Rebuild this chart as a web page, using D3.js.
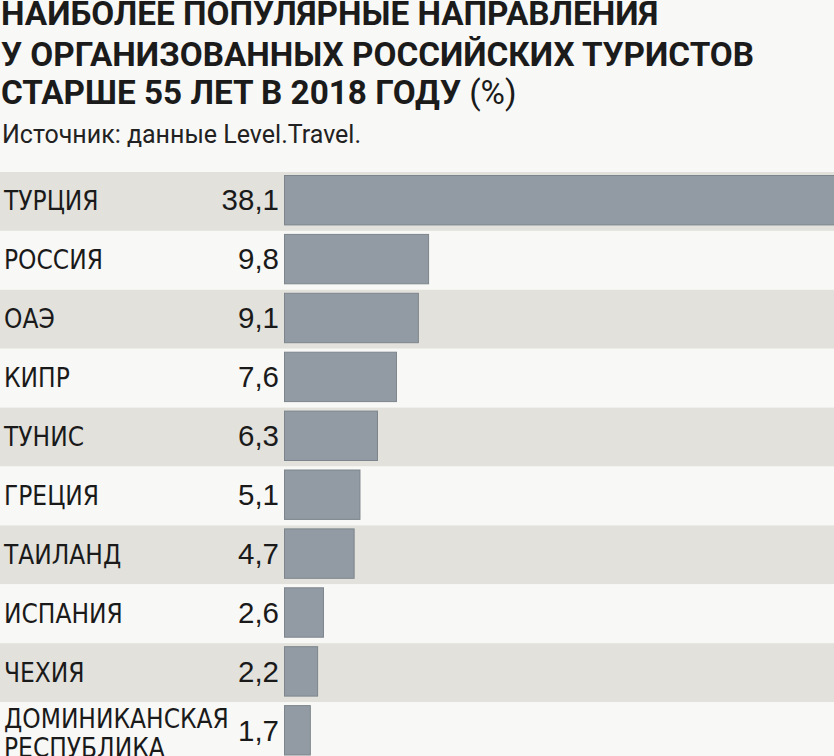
<!DOCTYPE html>
<html>
<head>
<meta charset="utf-8">
<script src="https://cdn.jsdelivr.net/npm/d3@7"></script>
<style>
  html, body { margin: 0; padding: 0; background: #f8f8f6; }
  svg { display: block; }
  .title { font-family: Roboto, "Liberation Sans", sans-serif; font-weight: 700; font-size: 33.3px; fill: #1b1b1b; }
  .sub { font-family: Roboto, "Liberation Sans", sans-serif; font-size: 25px; fill: #222; }
  .label { font-family: "DejaVu Sans Condensed", "DejaVu Sans", sans-serif; font-stretch: condensed; font-size: 26px; fill: #1a1a1a; }
  .value { font-family: "Liberation Sans", Arial, sans-serif; font-size: 29.5px; fill: #1a1a1a; }
</style>
</head>
<body>
<div id="chart"></div>
<script>
const W = 834, H = 756;

const titleLines = [
    "НАИБОЛЕЕ ПОПУЛЯРНЫЕ НАПРАВЛЕНИЯ",
    "У ОРГАНИЗОВАННЫХ РОССИЙСКИХ ТУРИСТОВ",
    "СТАРШЕ 55 ЛЕТ В 2018 ГОДУ"
];
const titleUnit = " (%)";
const source = "Источник: данные Level.Travel.";

const countries = ["ТУРЦИЯ", "РОССИЯ", "ОАЭ", "КИПР", "ТУНИС", "ГРЕЦИЯ", "ТАИЛАНД", "ИСПАНИЯ", "ЧЕХИЯ", "ДОМИНИКАНСКАЯ РЕСПУБЛИКА"];
const values = [38.1, 9.8, 9.1, 7.6, 6.3, 5.1, 4.7, 2.6, 2.2, 1.7];

const ROW_TOP = 172;
const ROW_STEP = 58.9;
const BAR_X = 284;

const ru = d3.formatLocale({decimal: ",", thousands: " ", grouping: [3], currency: ["", ""]});
const fmt = ru.format(".1f");

const svg = d3.select("#chart").append("svg")
    .attr("width", W)
    .attr("height", H);

svg.append("rect").attr("width", W).attr("height", H).attr("fill", "#f8f8f6");

// ==================== Title =====================
const titleY = [24.5, 65.5, 103.5];
const title = svg.selectAll(".title")
    .data(titleLines)
    .enter()
    .append("text")
    .attr("class", "title")
    .attr("x", 1)
    .attr("y", (d, i) => titleY[i])
    .text(d => d);

title.filter((d, i) => i === 2)
    .append("tspan")
    .style("font-weight", 400)
    .text(titleUnit);

svg.append("text")
    .attr("class", "sub")
    .attr("x", 2)
    .attr("y", 143)
    .text(source);

// ==================== Rows =====================
const y = d3.scaleBand()
    .domain(countries)
    .range([ROW_TOP, ROW_TOP + ROW_STEP * countries.length])
    .paddingInner(0);

const x = d3.scaleLinear()
    .domain([0, d3.max(values)])
    .range([BAR_X + 2, BAR_X + 2 + 14.6 * d3.max(values)]);

const rows = svg.selectAll(".row")
    .data(countries)
    .enter()
    .append("g")
    .attr("class", "row")
    .attr("transform", d => `translate(0,${y(d)})`);

rows.append("rect")
    .attr("width", W)
    .attr("height", y.bandwidth())
    .attr("fill", (d, i) => i % 2 === 0 ? "#e2e1dc" : "#f8f8f6");

rows.append("rect")
    .attr("x", BAR_X + 0.5)
    .attr("y", 3.5)
    .attr("width", (d, i) => x(values[i]) - BAR_X - 1)
    .attr("height", y.bandwidth() - 9.5)
    .attr("fill", "#929ba3")
    .attr("stroke", "#7d858c")
    .attr("stroke-width", 1);

rows.append("text")
    .attr("class", "value")
    .attr("x", 279)
    .attr("y", y.bandwidth() / 2 + 9)
    .attr("text-anchor", "end")
    .text((d, i) => fmt(values[i]));

rows.each(function (d) {
    const words = d.split(" ");
    const t = d3.select(this).append("text")
        .attr("class", "label")
        .attr("x", 4);
    if (words.length === 1) {
        t.attr("y", y.bandwidth() / 2 + 9).text(d);
    } else {
        t.selectAll("tspan")
            .data(words)
            .enter()
            .append("tspan")
            .attr("x", 4)
            .attr("y", (w, i) => y.bandwidth() / 2 - 4 + i * 29)
            .text(w => w);
    }
});
</script>
</body>
</html>
